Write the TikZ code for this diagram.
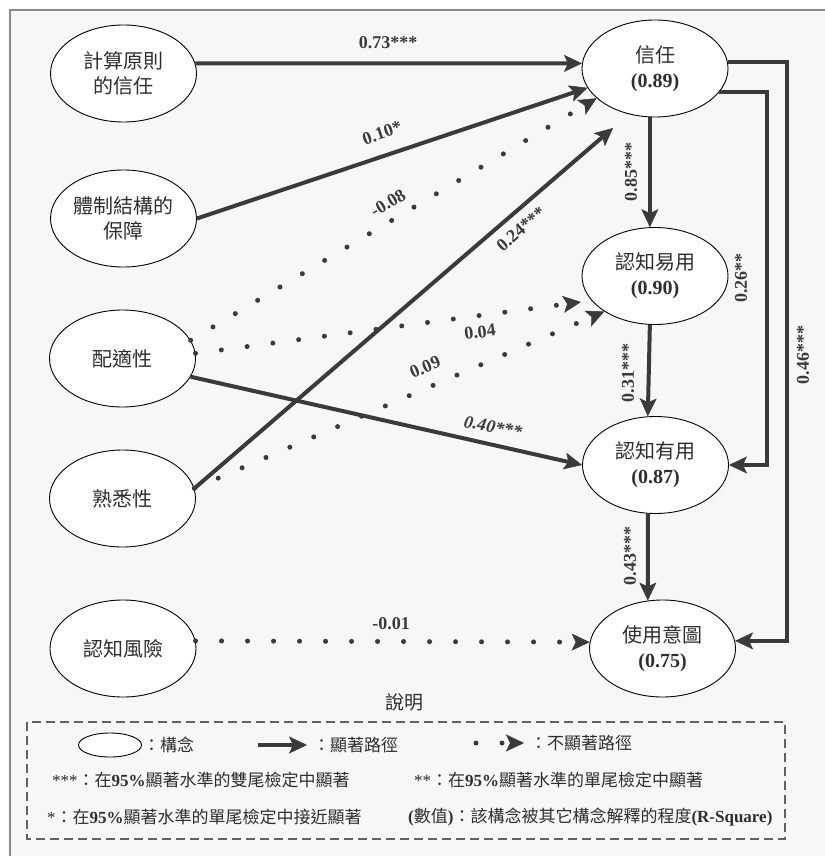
\documentclass[tikz,border=0pt]{standalone}
\usepackage{fontspec}
\setmainfont{Liberation Serif}
\newfontfamily\cjk{Noto Sans CJK TC}
\usetikzlibrary{shapes.geometric,arrows.meta,calc}
\definecolor{ink}{HTML}{3A3A3A}
\definecolor{txt}{HTML}{2E2E2E}
\definecolor{bgc}{HTML}{F7F7F7}
\definecolor{framec}{HTML}{8A8A8A}
\begin{document}
\begin{tikzpicture}[x=1pt,y=-1pt,
  cons/.style={ellipse,draw=black,line width=0.9pt,fill=white,minimum width=146pt,minimum height=97pt,inner sep=0pt,align=center,text=txt,font=\cjk\fontsize{20}{25}\selectfont},
  tipS/.style={-{Stealth[length=18pt,width=17pt,inset=4pt,line width=0.5pt]}},
  sig/.style={draw=ink,line width=4pt,tipS},
  nsig/.style={draw=ink,line width=5pt,line cap=round,dash pattern=on 0pt off 26pt,tipS},
  lab/.style={font=\bfseries\fontsize{18}{18}\selectfont,text=ink,inner sep=1pt},
  legtext/.style={font=\fontsize{17}{17}\selectfont,text=txt,inner sep=0pt,anchor=west},
]
\useasboundingbox (0,0) rectangle (824,856);
\fill[white] (0,0) rectangle (824,856);
\draw[fill=bgc,draw=framec,line width=2pt] (10,10) rectangle (850,880);

% constructs
\node[cons] (calc)  at (123.5,73.5) {計算原則\\的信任};
\node[cons] (inst)  at (123.5,218.5) {體制結構的\\保障};
\node[cons] (fit)   at (122.5,358.5) {配適性};
\node[cons] (fam)   at (122.5,498.5) {熟悉性};
\node[cons] (risk)  at (123,648.5) {認知風險};
\node[cons] (trust) at (655,68.5) {信任\\{\rmfamily\bfseries (0.89)}};
\node[cons] (peou)  at (655,276) {認知易用\\{\rmfamily\bfseries (0.90)}};
\node[cons] (pu)    at (655.5,465) {認知有用\\{\rmfamily\bfseries (0.87)}};
\node[cons] (bi)    at (662.5,648.5) {使用意圖\\{\rmfamily\bfseries (0.75)}};

\coordinate (t24) at (613,128);
\coordinate (t04) at (581,302);
\coordinate (c26) at (767,300);
\coordinate (c46) at (787,300);

% significant paths
\draw[sig] (calc.8) -- (trust.176);
\draw[sig] (inst.east) -- (trust.196);
\draw[sig] (fam.8) -- (t24);
\draw[sig] (fit.-15) -- (pu.west);
\draw[sig] (trust.-96) -- (peou.96);
\draw[sig] (peou.-96) -- (pu.99);
\draw[sig] (pu.-99) -- (bi.107);
\draw[sig] (trust.-20) -| (c26) |- (pu.east);
\draw[sig] (trust.5) -| (c46) |- (bi.6);

% non-significant paths
\draw[nsig] (fit.15) -- (trust.207);
\draw[nsig] (fit.4) -- (t04);
\draw[nsig] (fam.8) -- (peou.215);
\draw[nsig] (risk.6) -- (bi.175);

% path labels
\node[lab] at (388,43) {0.73***};
\node[lab,rotate=19] at (382,133) {0.10*};
\node[lab,rotate=31] at (388,203) {-0.08};
\node[lab,rotate=41] at (521,229) {0.24***};
\node[lab,rotate=7] at (480,332) {0.04};
\node[lab,rotate=23] at (425,367) {0.09};
\node[lab,rotate=-11,font=\bfseries\itshape\fontsize{18}{18}\selectfont] at (493,427) {0.40***};
\node[lab,rotate=90] at (631,172) {0.85***};
\node[lab,rotate=90] at (628,373) {0.31***};
\node[lab,rotate=90] at (630,556) {0.43***};
\node[lab,rotate=90] at (741,278) {0.26**};
\node[lab,rotate=90] at (803,355) {0.46***};
\node[lab] at (391,624) {-0.01};

% legend
\node[font=\cjk\fontsize{19}{19}\selectfont,text=txt] (legtitle) at (404,702) {說明};
\draw[draw=ink!80,line width=1.1pt,dash pattern=on 9pt off 5pt] (27,722) rectangle (785,839);
\node[ellipse,draw=black,line width=0.9pt,fill=white,minimum width=63pt,minimum height=24pt,inner sep=0pt] (lgE) at (110,745) {};
\node[legtext] (lgEt) at (143,745) {\cjk ：構念};
\coordinate (lgS1) at (258,745);
\coordinate (lgS2) at (307,745);
\draw[sig] (lgS1) -- (lgS2);
\node[legtext] (lgSt) at (313,745) {\cjk ：顯著路徑};
\coordinate (lgN1) at (476,743);
\coordinate (lgN2) at (524,743);
\draw[nsig] (lgN1) -- (lgN2);
\node[legtext] (lgNt) at (530,743) {\cjk ：不顯著路徑};
\node[legtext] (lg3) at (52,780) {***{\cjk ：在}{\bfseries 95\%}{\cjk 顯著水準的雙尾檢定中顯著}};
\node[legtext] (lg2) at (414,780) {**{\cjk ：在}{\bfseries 95\%}{\cjk 顯著水準的單尾檢定中顯著}};
\node[legtext] (lg1) at (47,817) {*{\cjk ：在}{\bfseries 95\%}{\cjk 顯著水準的單尾檢定中接近顯著}};
\node[legtext] (lgR) at (408,817) {{\bfseries (}{\cjk 數值}{\bfseries )}{\cjk ：該構念被其它構念解釋的程度}{\bfseries (R-Square)}};
\end{tikzpicture}
\end{document}
